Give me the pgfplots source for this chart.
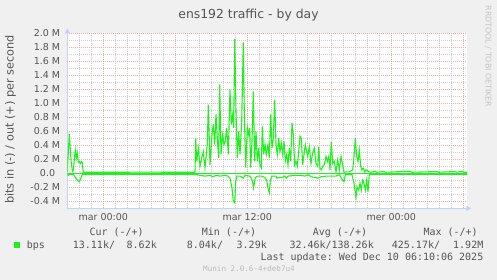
\documentclass[border=0pt]{standalone}
\usepackage{fontspec}
\setmainfont{DejaVu Sans}
\setmonofont{DejaVu Sans Mono}
\usepackage{pgfplots}
\usepackage{pgfplotstable}
\pgfplotsset{compat=1.18}
\usetikzlibrary{arrows.meta}
\definecolor{bg}{HTML}{F0F0F0}
\definecolor{txt}{HTML}{555555}
\definecolor{grn}{HTML}{20F020}
\definecolor{mgrid}{HTML}{EDA8A8}
\definecolor{mingrid}{HTML}{CDCDCD}
\definecolor{axisc}{HTML}{C8D0F4}
\definecolor{foot}{HTML}{BBBBBB}
\definecolor{wm}{HTML}{C4C4C4}
\pgfplotstableread{
t v
-180 0.02
-175 0.30
-170 0.56
-164 0.30
-160 0.14
-154 0.03
-149 0.05
-145 0.20
-140 0.33
-135 0.21
-130 0.29
-125 0.16
-120 0.17
-115 0.14
-110 0.17
-105 0.15
-100 0.015
0 0.015
200 0.016
455 0.015
458.5 0.02
462 0.50
467 0.17
475 0.36
483.5 0.10
492 0.22
500 0.31
508.5 0.08
520 0.41
525 0.98
533.5 0.12
543.5 0.55
550 0.70
557 0.41
563.5 0.84
570 0.50
577 0.22
582 1.27
588.5 0.27
597 0.55
603.5 0.41
610 0.46
617 0.65
625 0.27
633.5 1.19
640 0.70
647 0.84
652 0.65
657 1.92
663.5 0.88
670 0.22
677 0.60
683.5 0.27
692 0.74
700 1.87
705 0.88
712 0.08
720 0.65
727 0.55
732 0.65
737 0.08
743.5 0.46
750 1.17
757 0.17
763.5 0.60
770 0.17
777 0.36
783.5 0.12
790 0.08
795 0.67
802 0.27
808.5 0.41
815 0.27
823.5 0.41
830 0.22
837 0.84
843.5 0.36
850 0.50
857 1.05
863.5 0.41
870 0.27
877 0.50
883.5 0.31
890 0.43
897 0.27
903.5 0.46
910 0.17
917 0.27
923.5 0.12
930 0.36
937 0.17
943.5 0.72
950 0.55
957 0.12
963.5 0.17
970 0.10
977 0.31
983.5 0.53
990 0.50
997 0.12
1003.5 0.27
1010 0.41
1016 0.32
1022 0.24
1030 0.38
1038.5 0.14
1047 0.29
1055 0.36
1063.5 0.14
1072 0.10
1077 0.38
1083.5 0.07
1090 0.05
1097 0.10
1105 0.12
1113.5 0.24
1120 0.17
1127 0.24
1133.5 0.05
1140 0.45
1147 0.14
1155 0.17
1163.5 0.02
1172 0.19
1180 0.05
1188.5 0.24
1197 0.12
1203.5 0.015
1213.5 0.02
1230 0.02
1247 0.05
1255 0.29
1260 0.50
1267 0.24
1273.5 0.17
1280 0.33
1287 0.10
1293.5 0.05
1300 0.07
1307 0.02
1313.5 0.05
1330 0.02
1340 0.015
1358.5 0.03
1368 0.015
1403 0.025
1413 0.015
1533 0.03
1543 0.015
1668 0.025
1678 0.015
1758 0.025
1768 0.015
1793 0.03
1803 0.015
1820 0.015
}\outdata
\pgfplotstableread{
t v
-180 -0.01
-174 -0.03
-166.5 -0.01
-158 -0.02
-151.5 -0.01
-141.5 -0.05
-130 -0.10
-120 -0.12
-113 -0.08
-108 -0.03
-101.5 -0.015
463.5 -0.015
470 -0.02
483.5 -0.03
508.5 -0.04
533.5 -0.03
548.5 -0.05
563.5 -0.03
583.5 -0.04
608.5 -0.03
623.5 -0.04
633.5 -0.07
643.5 -0.21
650 -0.40
657 -0.42
662 -0.13
667 -0.04
683.5 -0.04
700 -0.07
708.5 -0.03
733.5 -0.04
745 -0.10
751 -0.21
760 -0.06
773.5 -0.04
793.5 -0.04
807 -0.06
817 -0.10
823.5 -0.21
830 -0.28
835 -0.10
843.5 -0.04
863.5 -0.04
868.5 -0.07
876 -0.06
893.5 -0.06
908.5 -0.04
915 -0.07
923.5 -0.04
958.5 -0.03
988.5 -0.03
1008.5 -0.04
1023.5 -0.02
1038.5 -0.05
1063.5 -0.06
1072 -0.07
1088.5 -0.05
1113.5 -0.04
1138.5 -0.04
1163.5 -0.04
1180 -0.02
1197 -0.10
1203.5 -0.12
1210 -0.02
1243.5 -0.02
1253.5 -0.14
1263.5 -0.35
1268.5 -0.19
1277 -0.24
1283.5 -0.14
1290 -0.24
1297 -0.10
1303.5 -0.14
1310 -0.24
1317 -0.10
1323.5 -0.26
1330 -0.02
1333.5 -0.015
1820 -0.015
}\indata
\begin{document}
\begin{tikzpicture}
\fill[bg] (0,0) rectangle (497pt,280pt);
\begin{axis}[
  at={(67.3pt,71.7pt)}, anchor=south west,
  scale only axis, width=400pt, height=175pt,
  xmin=-180, xmax=1820, ymin=-0.5, ymax=2.0,
  axis background/.style={fill=white},
  axis lines=left,
  axis line style={color=axisc, line width=1pt},
  x axis line style={-{Triangle[length=5pt,width=5pt]}, shorten >=-4pt},
  y axis line style={-{Triangle[length=5pt,width=5pt]}, shorten >=-5pt},
  tick align=inside, major tick length=0pt, minor tick length=0pt,
  tick style={draw=none},
  grid=both,
  major grid style={color=mgrid, line width=0.9pt, dash pattern=on 1pt off 1pt},
  minor grid style={color=mingrid, line width=0.9pt, dash pattern=on 1pt off 1pt},
  xtick={0,360,720,1080,1440,1800},
  xticklabels={mar 00:00,,mar 12:00,,mer 00:00,},
  minor xtick={-120,-60,60,120,180,240,300,420,480,540,600,660,780,840,900,960,1020,1140,1200,1260,1320,1380,1500,1560,1620,1680,1740},
  ytick={-0.4,-0.2,0,0.2,0.4,0.6,0.8,1.0,1.2,1.4,1.6,1.8,2.0},
  yticklabels={-0.4 M,-0.2 M,0.0\hspace*{5pt},0.2 M,0.4 M,0.6 M,0.8 M,1.0 M,1.2 M,1.4 M,1.6 M,1.8 M,2.0 M},
  minor ytick={-0.3,-0.1,0.1,0.3,0.5,0.7,0.9,1.1,1.3,1.5,1.7,1.9},
  tick label style={font=\fontsize{9.5}{11}\selectfont, text=txt, inner sep=0pt},
  yticklabel style={anchor=east, xshift=-7pt},
  xticklabel style={anchor=north, yshift=-5pt},
  every axis y label/.style={at={(axis description cs:-0.142,0.507)}, rotate=90, anchor=center, font=\fontsize{11.3}{13}\selectfont, text=txt},
  ylabel={bits in (-) / out (+) per second},
]
\addplot[grn, line width=1.3pt] coordinates {(-180,0) (1820,0)};
\addplot[grn, line width=1.1pt] table[x=t,y=v] {\indata};
\addplot[grn, line width=1.1pt] table[x=t,y=v] {\outdata};
\end{axis}
\node[anchor=base, text=txt, font=\fontsize{12.4}{14}\selectfont, inner sep=0pt] at (248.5pt,261.5pt) {ens192 traffic - by day};
\node[rotate=-90, anchor=center, text=wm, font=\fontsize{7.9}{9}\selectfont, inner sep=0pt] at (488.3pt,223.5pt) {RRDTOOL / TOBI OETIKER};
\begin{scope}[every node/.style={inner sep=0pt, text=txt, font=\ttfamily\fontsize{10}{12}\selectfont}]
\node[anchor=base west] at (89.3pt,44pt) {Cur (-/+)};
\node[anchor=base west] at (201.7pt,44pt) {Min (-/+)};
\node[anchor=base west] at (312.7pt,44pt) {Avg (-/+)};
\node[anchor=base west] at (423.3pt,44pt) {Max (-/+)};
\fill[grn] (14pt,32pt) rectangle (20pt,38pt);
\node[anchor=base west] at (26.7pt,31pt) {bps};
\node[anchor=base west] at (72.7pt,31pt) {13.11k/};
\node[anchor=base east] at (157pt,31pt) {8.62k};
\node[anchor=base west] at (186.7pt,31pt) {8.04k/};
\node[anchor=base east] at (267pt,31pt) {3.29k};
\node[anchor=base west] at (289.3pt,31pt) {32.46k/138.26k};
\node[anchor=base west] at (391.7pt,31pt) {425.17k/};
\node[anchor=base east] at (483.5pt,31pt) {1.92M};
\node[anchor=base east] at (483.5pt,19.3pt) {Last update: Wed Dec 10 06:10:06 2025};
\node[anchor=base, text=foot, font=\ttfamily\fontsize{7.6}{9}\selectfont] at (249pt,8.3pt) {Munin 2.0.6-4+deb7u4};
\end{scope}
\pgfresetboundingbox
\path (0,0) rectangle (497pt,280pt);
\end{tikzpicture}
\end{document}
